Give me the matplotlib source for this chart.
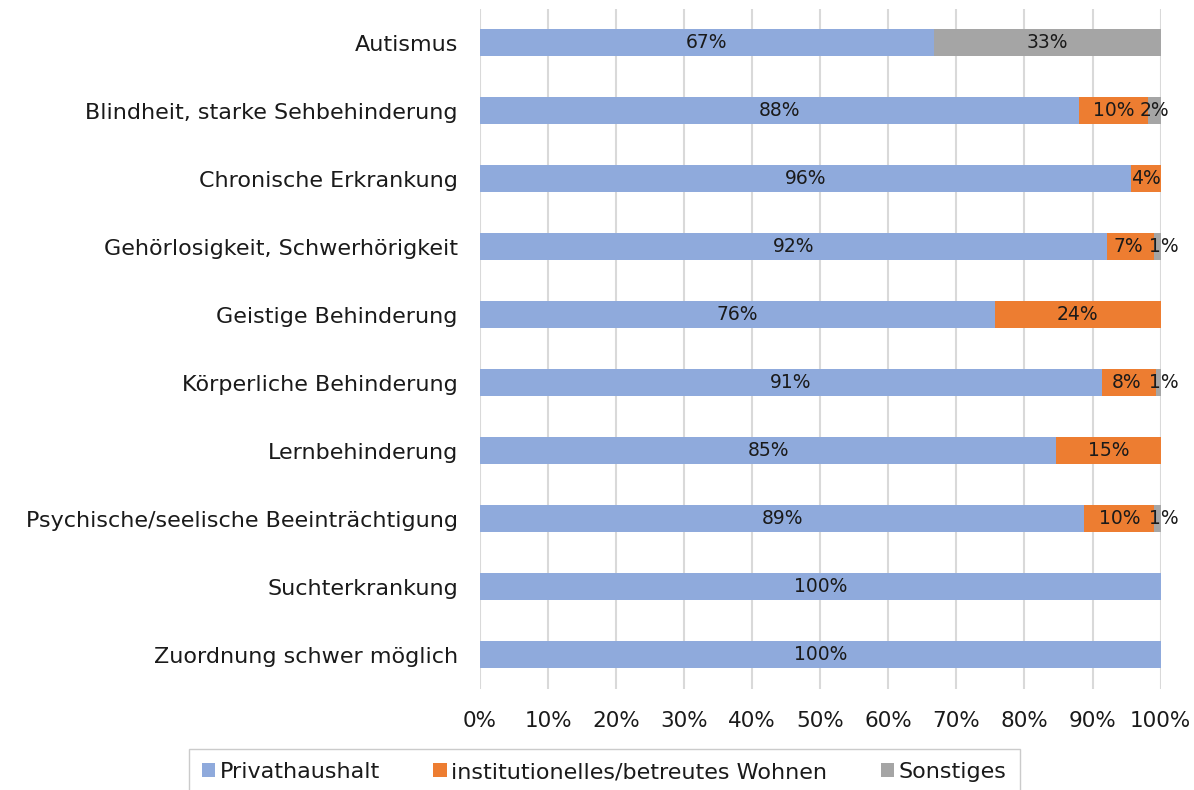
import numpy as np
import matplotlib.pyplot as plt
from matplotlib.ticker import PercentFormatter

# %% DATA

categories = ['Autismus',
              'Blindheit, starke Sehbehinderung',
              'Chronische Erkrankung',
              'Gehörlosigkeit, Schwerhörigkeit',
              'Geistige Behinderung',
              'Körperliche Behinderung',
              'Lernbehinderung',
              'Psychische/seelische Beeinträchtigung',
              'Suchterkrankung',
              'Zuordnung schwer möglich']

privat    = [66.7, 88.0, 95.6, 92.2, 75.6, 91.4, 84.7, 88.8, 100.0, 100.0]
instit    = [0.0, 10.2, 4.4, 6.9, 24.4, 7.9, 15.3, 10.3, 0.0, 0.0]
sonstiges = [33.3, 1.8, 0.0, 0.9, 0.0, 0.7, 0.0, 0.9, 0.0, 0.0]

seriesNames  = ['Privathaushalt', 'institutionelles/betreutes Wohnen', 'Sonstiges']
seriesColors = ['#8faadc', '#ed7d31', '#a5a5a5']
xTicks       = [0, 10, 20, 30, 40, 50, 60, 70, 80, 90, 100]

# %% PLOT

plt.rcParams['font.family'] = ['DejaVu Sans']
txtCol = '#1a1a1a'

fig = plt.figure(figsize=(11.94, 7.9), dpi=100)
ax  = fig.add_axes([0.402, 0.128, 0.570, 0.861])

yPos = np.arange(len(categories))
left = np.zeros(len(categories))
for k, (vals, name, col) in enumerate(zip([privat, instit, sonstiges], seriesNames, seriesColors)):
    vals = np.array(vals)
    ax.barh(yPos, vals, left=left, height=0.4, color=col, label=name, zorder=2)
    for y, l, v in zip(yPos, left, vals):
        if v > 0:
            xc = l + v/2
            # tiny segments: push label a bit right, like Excel does
            if k == 2 and v < 1.5:
                xc += 0.9
            if k == 1 and v < 9 and y in (3, 5):
                xc -= 0.4
            ax.text(xc, y, '%d%%' % round(v), ha='center', va='center',
                    fontsize=13.5, color=txtCol, zorder=3)
    left = left + vals

ax.set_ylim(len(categories) - 0.5, -0.5)
ax.set_xlim(0, 100)
ax.set_yticks(yPos)
ax.set_yticklabels(categories, fontsize=16, color=txtCol)
ax.set_xticks(xTicks)
ax.xaxis.set_major_formatter(PercentFormatter(decimals=0))
ax.tick_params(axis='x', labelsize=15.5, colors=txtCol, length=0, pad=16)
ax.tick_params(axis='y', length=0, pad=16)
ax.grid(axis='x', color='#d9d9d9', linewidth=1.5, zorder=0)
for s in ax.spines.values():
    s.set_visible(False)

leg = fig.legend(loc='upper center', bbox_to_anchor=(0.506, 0.052), ncol=3,
                 fontsize=16, frameon=True, fancybox=False, edgecolor='#bfbfbf',
                 handlelength=0.6, handleheight=0.6, handletextpad=0.2,
                 columnspacing=2.4, borderpad=0.6, borderaxespad=0)
for t in leg.get_texts():
    t.set_color(txtCol)

fig.savefig('out.png', dpi=100)
